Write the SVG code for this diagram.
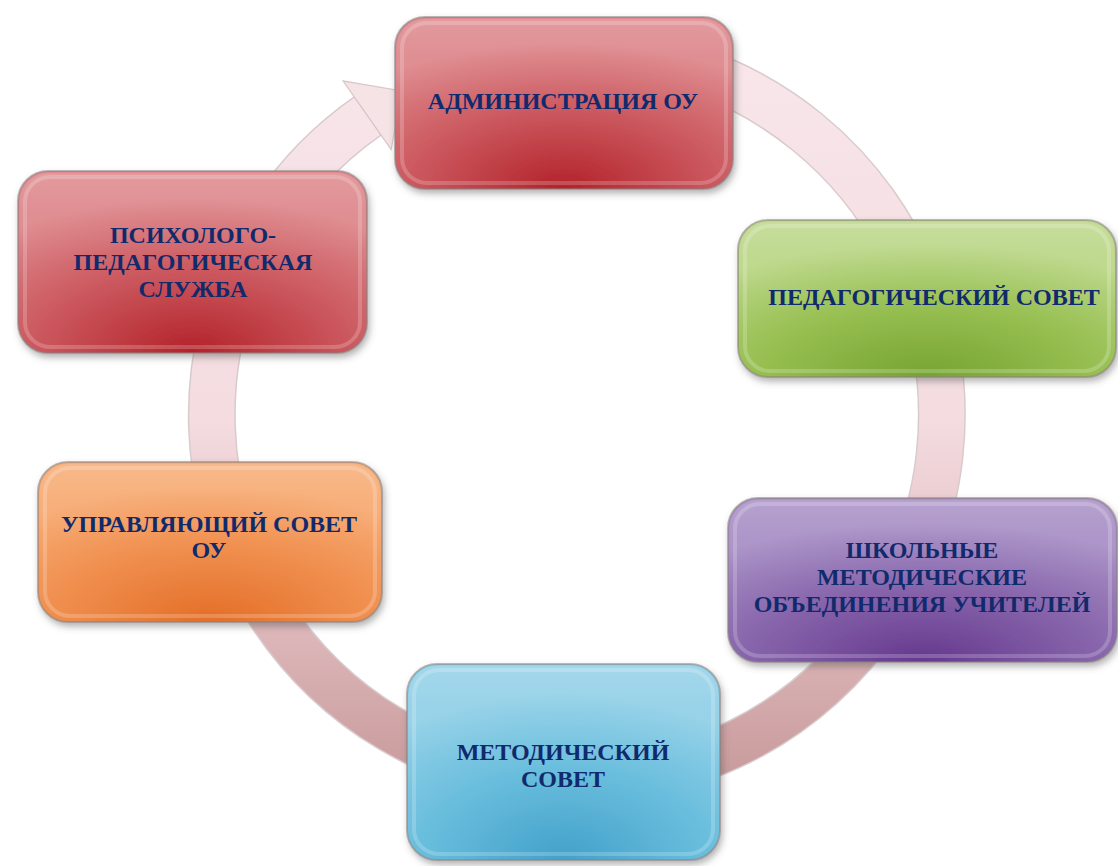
<svg xmlns="http://www.w3.org/2000/svg" width="1118" height="866" viewBox="0 0 1118 866">
<style>
.lbl{font-family:"Liberation Serif","DejaVu Serif",serif;font-weight:bold;font-size:24px;fill:#102a6c;text-anchor:middle}
.box{stroke:#8a7f80;stroke-opacity:.55;stroke-width:2;filter:url(#sh)}
.rim{fill:none;stroke:#ffffff;stroke-opacity:.2;stroke-width:4}
.gloss{fill:url(#gloss)}
</style>
<defs>
<filter id="sh" x="-10%" y="-10%" width="125%" height="130%">
<feDropShadow dx="2" dy="4" stdDeviation="3.5" flood-color="#555" flood-opacity=".45"/>
</filter>
<linearGradient id="gloss" x1="0" y1="0" x2="0" y2="1">
<stop offset="0" stop-color="#fff" stop-opacity=".14"/>
<stop offset=".45" stop-color="#fff" stop-opacity=".04"/>
<stop offset="1" stop-color="#fff" stop-opacity="0"/>
</linearGradient>
<radialGradient id="gRed" cx=".5" cy="1" r=".85">
<stop offset="0" stop-color="#b3222a"/>
<stop offset=".55" stop-color="#cc5a60"/>
<stop offset="1" stop-color="#de8a8e"/>
</radialGradient>
<radialGradient id="gGreen" cx=".5" cy="1" r=".85">
<stop offset="0" stop-color="#76a431"/>
<stop offset=".55" stop-color="#98c053"/>
<stop offset="1" stop-color="#bdd88b"/>
</radialGradient>
<radialGradient id="gPurple" cx=".5" cy="1" r=".85">
<stop offset="0" stop-color="#65388e"/>
<stop offset=".55" stop-color="#8866ac"/>
<stop offset="1" stop-color="#aa92c7"/>
</radialGradient>
<radialGradient id="gBlue" cx=".5" cy="1" r=".85">
<stop offset="0" stop-color="#42a1ca"/>
<stop offset=".55" stop-color="#6abedd"/>
<stop offset="1" stop-color="#94d1e8"/>
</radialGradient>
<radialGradient id="gOrange" cx=".5" cy="1" r=".85">
<stop offset="0" stop-color="#e36e27"/>
<stop offset=".55" stop-color="#f08f4f"/>
<stop offset="1" stop-color="#f7ad77"/>
</radialGradient>
<linearGradient id="ring" gradientUnits="userSpaceOnUse" x1="0" y1="50" x2="0" y2="790">
<stop offset="0" stop-color="#f8e6ea"/>
<stop offset=".5" stop-color="#f4dce0"/>
<stop offset=".75" stop-color="#e0bcbf"/>
<stop offset="1" stop-color="#c79899"/>
</linearGradient>
</defs>
<rect width="1118" height="866" fill="#fff"/>
<g id="connectors">
<path d="M464.2 67.9 A365 365 0 1 1 367.6 116" fill="none" stroke="#bfa9ac" stroke-opacity=".6" stroke-width="48"/>
<path d="M464.2 67.9 A365 365 0 1 1 367.6 116" fill="none" stroke="url(#ring)" stroke-width="45"/>
<polygon points="391.2,149.6 343,80.8 402,91" fill="#f5e3e6" stroke="#c9b5b8" stroke-opacity=".7" stroke-width="1.2"/>
</g>
<g id="node-admin">
<rect class="box" x="395" y="17" width="338" height="172" rx="30" fill="url(#gRed)"/>
<rect class="rim" x="402" y="23" width="324" height="160" rx="25"/>
<rect class="gloss" x="397" y="19" width="334" height="85" rx="28"/>
<text class="lbl" x="563" y="109">АДМИНИСТРАЦИЯ ОУ</text>
</g>
<g id="node-pedsovet">
<rect class="box" x="738" y="220" width="378" height="157" rx="30" fill="url(#gGreen)"/>
<rect class="rim" x="745" y="226" width="364" height="145" rx="25"/>
<rect class="gloss" x="740" y="222" width="374" height="78" rx="28"/>
<text class="lbl" x="934" y="305">ПЕДАГОГИЧЕСКИЙ СОВЕТ</text>
</g>
<g id="node-shmo">
<rect class="box" x="728" y="498" width="389" height="164" rx="30" fill="url(#gPurple)"/>
<rect class="rim" x="735" y="504" width="375" height="152" rx="25"/>
<rect class="gloss" x="730" y="500" width="385" height="82" rx="28"/>
<text class="lbl" x="922" y="558">ШКОЛЬНЫЕ</text>
<text class="lbl" x="922" y="585">МЕТОДИЧЕСКИЕ</text>
<text class="lbl" x="922" y="612">ОБЪЕДИНЕНИЯ УЧИТЕЛЕЙ</text>
</g>
<g id="node-metsovet">
<rect class="box" x="407" y="664" width="313" height="196" rx="30" fill="url(#gBlue)"/>
<rect class="rim" x="414" y="670" width="299" height="184" rx="25"/>
<rect class="gloss" x="409" y="666" width="309" height="98" rx="28"/>
<text class="lbl" x="563" y="760">МЕТОДИЧЕСКИЙ</text>
<text class="lbl" x="563" y="787">СОВЕТ</text>
</g>
<g id="node-upravsovet">
<rect class="box" x="38" y="462" width="344" height="160" rx="30" fill="url(#gOrange)"/>
<rect class="rim" x="45" y="468" width="330" height="148" rx="25"/>
<rect class="gloss" x="40" y="464" width="340" height="80" rx="28"/>
<text class="lbl" x="209" y="532">УПРАВЛЯЮЩИЙ СОВЕТ</text>
<text class="lbl" x="209" y="558">ОУ</text>
</g>
<g id="node-psych">
<rect class="box" x="18" y="171" width="349" height="182" rx="30" fill="url(#gRed)"/>
<rect class="rim" x="25" y="177" width="335" height="170" rx="25"/>
<rect class="gloss" x="20" y="173" width="345" height="91" rx="28"/>
<text class="lbl" x="193" y="243">ПСИХОЛОГО-</text>
<text class="lbl" x="193" y="270">ПЕДАГОГИЧЕСКАЯ</text>
<text class="lbl" x="193" y="297">СЛУЖБА</text>
</g>
</svg>
